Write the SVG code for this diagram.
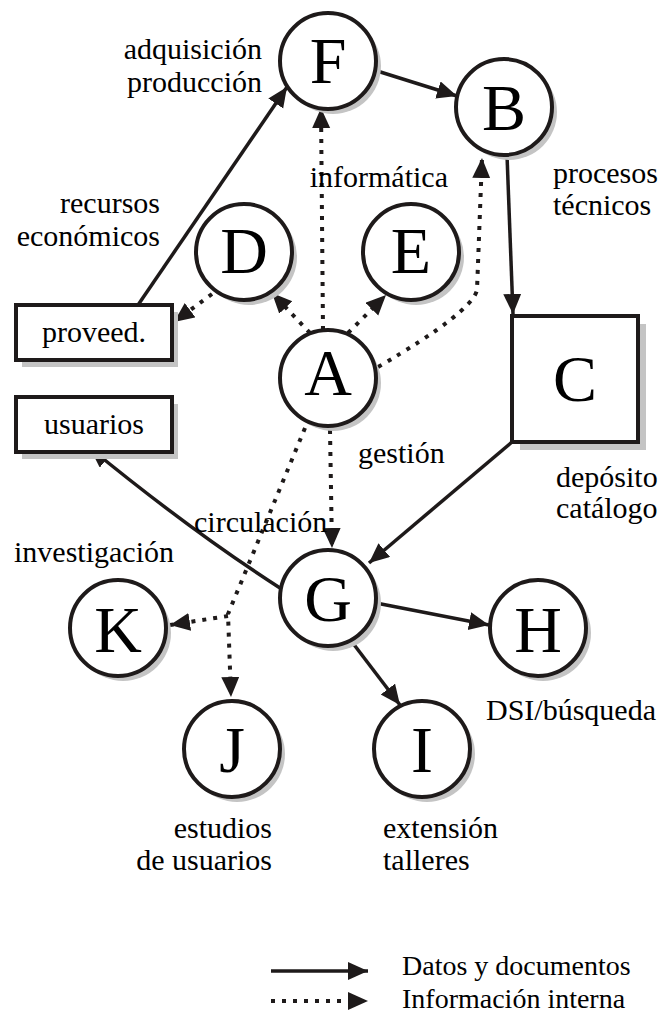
<svg xmlns="http://www.w3.org/2000/svg" width="665" height="1015" viewBox="0 0 665 1015">
<style>
.sh{fill:#c4c4c4}
.nd{fill:#fff;stroke:#1e1a1a;stroke-width:4}
.lt{font-family:"Liberation Serif","Times New Roman",serif;font-size:66px;fill:#000;text-anchor:middle}
.lb{font-family:"Liberation Serif","Times New Roman",serif;font-size:30px;fill:#000}
.lg{font-family:"Liberation Serif","Times New Roman",serif;font-size:28px;fill:#000}
.bx{font-family:"Liberation Serif","Times New Roman",serif;font-size:30px;fill:#000;text-anchor:middle}
.s{fill:none;stroke:#1e1a1a;stroke-width:3.5;marker-end:url(#ah)}
.d{fill:none;stroke:#1e1a1a;stroke-width:4;stroke-dasharray:4 7;marker-end:url(#ah)}
</style>
<defs>
<marker id="ah" markerUnits="userSpaceOnUse" markerWidth="22" markerHeight="20" refX="20" refY="9" orient="auto">
<path d="M0,0 L20,9 L0,18 z" fill="#1e1a1a"/>
</marker>
</defs>
<rect width="665" height="1015" fill="#fff"/>
<g id="connectors">
<path class="s" d="M138 305 L287 87"/>
<path class="s" d="M374 70 L457 96"/>
<path class="s" d="M507 155 L513 314"/>
<path class="s" d="M512 442 L369 563"/>
<path class="s" d="M376 603 L489 625"/>
<path class="s" d="M352 642 L400 705"/>
<path class="s" d="M280 588 Q190 530 90 448"/>
<path class="d" d="M323 330 L321 108"/>
<path class="d" d="M310 333 L272 293"/>
<path class="d" d="M348 333 L386 295"/>
<path class="d" d="M378 367 Q472 312 477 290 L482 158"/>
<path class="d" d="M212 294 L174 322"/>
<path class="d" d="M305 428 L228 614 L231 697"/>
<path class="d" d="M228 616 L170 625"/>
<path class="d" d="M330 430 L332 548"/>
</g>
<g id="node-F"><circle class="sh" cx="333" cy="66" r="48"/><circle class="nd" cx="328" cy="61" r="48"/><text class="lt" x="328" y="83">F</text></g>
<g id="node-B"><circle class="sh" cx="509" cy="112" r="48"/><circle class="nd" cx="504" cy="107" r="48"/><text class="lt" x="504" y="130">B</text></g>
<g id="node-D"><circle class="sh" cx="249" cy="257" r="48"/><circle class="nd" cx="244" cy="252" r="48"/><text class="lt" x="244" y="273">D</text></g>
<g id="node-E"><circle class="sh" cx="416" cy="257" r="48"/><circle class="nd" cx="411" cy="252" r="48"/><text class="lt" x="411" y="273">E</text></g>
<g id="node-A"><circle class="sh" cx="333" cy="383" r="48"/><circle class="nd" cx="328" cy="378" r="48"/><text class="lt" x="328" y="395">A</text></g>
<g id="node-C"><rect class="sh" x="520" y="324" width="126" height="126"/><rect class="nd" x="512" y="316" width="126" height="126"/><text class="lt" x="575" y="401">C</text></g>
<g id="node-proveed"><rect class="sh" x="22" y="312" width="156" height="55"/><rect class="nd" x="16" y="305" width="156" height="55"/><text class="bx" x="94" y="342">proveed.</text></g>
<g id="node-usuarios"><rect class="sh" x="22" y="404" width="156" height="55"/><rect class="nd" x="16" y="397" width="156" height="55"/><text class="bx" x="94" y="434">usuarios</text></g>
<g id="node-G"><circle class="sh" cx="333" cy="603" r="48"/><circle class="nd" cx="328" cy="598" r="48"/><text class="lt" x="328" y="621">G</text></g>
<g id="node-K"><circle class="sh" cx="123" cy="633" r="48"/><circle class="nd" cx="118" cy="628" r="48"/><text class="lt" x="118" y="652">K</text></g>
<g id="node-H"><circle class="sh" cx="543" cy="633" r="48"/><circle class="nd" cx="538" cy="628" r="48"/><text class="lt" x="538" y="652">H</text></g>
<g id="node-J"><circle class="sh" cx="237" cy="754" r="48"/><circle class="nd" cx="232" cy="749" r="48"/><text class="lt" x="232" y="772">J</text></g>
<g id="node-I"><circle class="sh" cx="427" cy="754" r="48"/><circle class="nd" cx="422" cy="749" r="48"/><text class="lt" x="422" y="772">I</text></g>
<g id="labels">
<text class="lb" x="262" y="59" text-anchor="end">adquisición</text>
<text class="lb" x="262" y="92" text-anchor="end">producción</text>
<text class="lb" x="160" y="213" text-anchor="end">recursos</text>
<text class="lb" x="160" y="246" text-anchor="end">económicos</text>
<text class="lb" x="553" y="183">procesos</text>
<text class="lb" x="553" y="215">técnicos</text>
<text class="lb" x="448" y="187" text-anchor="end">informática</text>
<text class="lb" x="358" y="463">gestión</text>
<text class="lb" x="556" y="487">depósito</text>
<text class="lb" x="556" y="518">catálogo</text>
<text class="lb" x="194" y="532">circulación</text>
<text class="lb" x="14" y="562">investigación</text>
<text class="lb" x="486" y="720">DSI/búsqueda</text>
<text class="lb" x="272" y="838" text-anchor="end">estudios</text>
<text class="lb" x="272" y="870" text-anchor="end">de usuarios</text>
<text class="lb" x="383" y="838">extensión</text>
<text class="lb" x="383" y="870">talleres</text>
</g>
<g id="legend">
<path class="s" d="M271 971 L368 971"/>
<path class="d" d="M271 1001 L368 1001"/>
<text class="lg" x="402" y="975">Datos y documentos</text>
<text class="lg" x="402" y="1008">Información interna</text>
</g>
</svg>
